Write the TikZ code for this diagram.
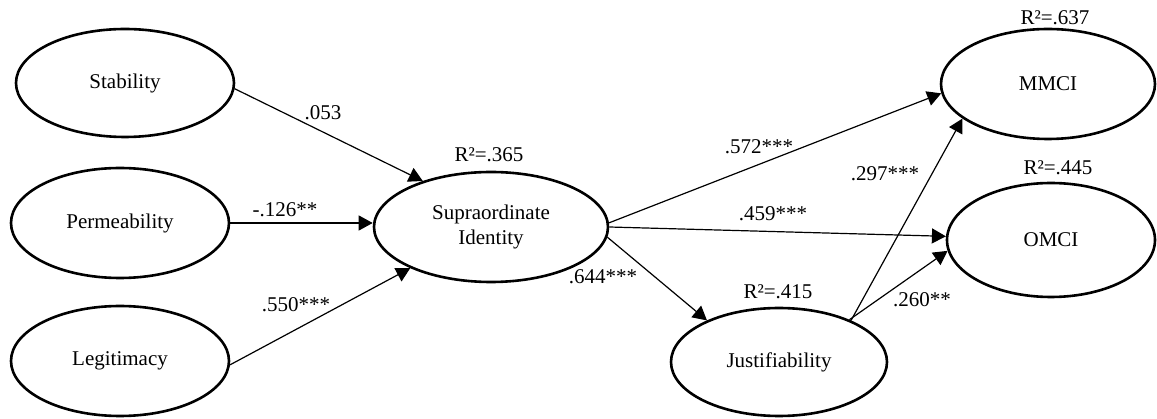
\documentclass[tikz,border=0pt]{standalone}
\usepackage{fontspec}
\setmainfont{Liberation Serif}
\usetikzlibrary{shapes.geometric,arrows.meta}
\begin{document}
\begin{tikzpicture}[x=1pt,y=-1pt,
  latent/.style={ellipse, draw, line width=2.6pt, inner sep=0pt, align=center,
    font=\fontsize{21}{25}\selectfont},
  lbl/.style={font=\fontsize{21}{25}\selectfont, inner sep=0pt},
  conn/.style={line width=1.2pt, -{Triangle[length=14pt,width=15pt]}}]
\useasboundingbox (0,0) rectangle (1157,419);
% latent variables
\node[latent, minimum width=218, minimum height=108] (stab) at (125,83) {Stability};
\node[latent, minimum width=218, minimum height=110] (perm) at (120,223) {Permeability};
\node[latent, minimum width=218, minimum height=110] (legit) at (120,361) {Legitimacy};
\node[latent, minimum width=234, minimum height=110] (supra) at (491,227) {Supraordinate\\Identity};
\node[latent, minimum width=216, minimum height=108] (just) at (779,362) {Justifiability};
\node[latent, minimum width=214, minimum height=110] (mmci) at (1048,84) {MMCI};
\node[latent, minimum width=208, minimum height=114] (omci) at (1051,240) {OMCI};
% R squared
\node[lbl] (r1) at (489,155) {R²=.365};
\node[lbl] (r2) at (778,292) {R²=.415};
\node[lbl] (r3) at (1055,18) {R²=.637};
\node[lbl] (r4) at (1058,168) {R²=.445};
% paths
\draw[conn] (stab.-3) -- (supra.146);
\draw[conn] (perm.east) -- (perm.east -| supra.west);
\draw[conn] (legit.-2) -- (supra.207);
\draw[conn] (supra.2) -- (mmci.185);
\draw[conn] (supra.0) -- (omci.178.5);
\draw[conn] (supra.-5) -- (just.150);
\draw[conn] (just.30.5) -- (mmci.202);
\draw[conn] (just.31) -- (omci.186.5);
% coefficients
\node[lbl] (c1) at (323,113) {.053};
\node[lbl] (c2) at (285,210) {-.126**};
\node[lbl] (c3) at (296,305) {.550***};
\node[lbl] (c4) at (603,277) {.644***};
\node[lbl] (c5) at (759,147) {.572***};
\node[lbl] (c6) at (773,214) {.459***};
\node[lbl] (c7) at (885,174) {.297***};
\node[lbl] (c8) at (922,300) {.260**};
\end{tikzpicture}
\end{document}
